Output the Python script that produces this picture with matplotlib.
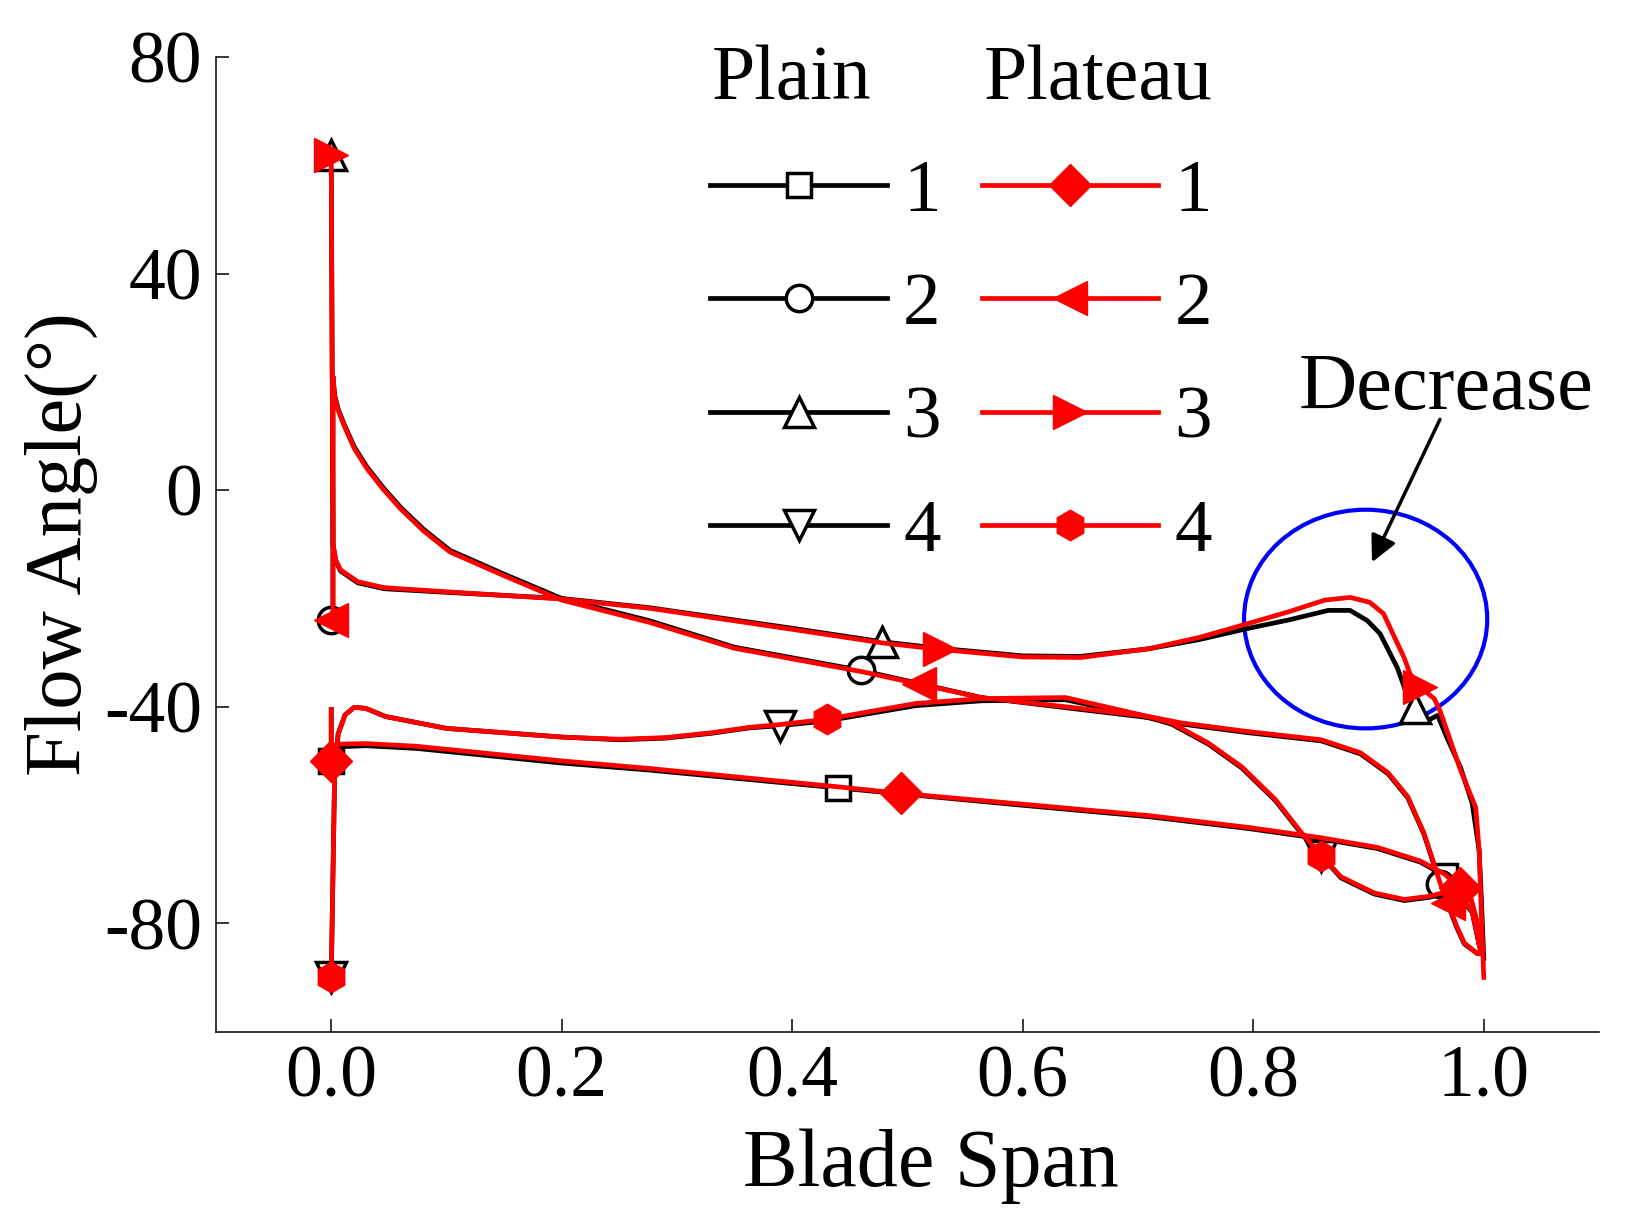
import matplotlib
matplotlib.use("Agg")
import matplotlib.pyplot as plt
from matplotlib.patches import Ellipse
from matplotlib.ticker import FormatStrFormatter

plt.rcParams['font.family'] = ['Liberation Serif', 'DejaVu Serif']
plt.rcParams['axes.unicode_minus'] = False

# Position 1
span_p1 = [0.0, 0.0, 0.006, 0.03, 0.074, 0.2, 0.276, 0.44, 0.6, 0.709, 0.796, 0.859, 0.908, 0.945, 0.966, 0.979, 0.989, 0.994, 0.997]
angle_p1 = [-40.5, -50, -47.4, -47.2, -47.7, -50.4, -51.7, -55, -58.2, -60.3, -62.5, -64.4, -66.2, -68.7, -71.2, -73.7, -75.7, -79.8, -85]
marks_p1 = [1, 7, 14]
span_r1 = [0.0, 0.0, 0.006, 0.03, 0.074, 0.2, 0.276, 0.44, 0.494, 0.6, 0.709, 0.796, 0.859, 0.908, 0.945, 0.966, 0.979, 0.989, 0.994, 0.997]
angle_r1 = [-40.5, -50, -46.9, -46.8, -47.3, -50.0, -51.4, -54.8, -56, -58, -60.1, -62.3, -64.2, -66, -68.5, -70.9, -73.5, -75.5, -79.6, -85]
marks_r1 = [1, 8, 16]

# Position 2
span_p2 = [0.0, 0.0015, 0.0015, 0.003, 0.006, 0.011, 0.02, 0.031, 0.045, 0.06, 0.08, 0.103, 0.15, 0.2, 0.276, 0.35, 0.46, 0.51, 0.564, 0.65, 0.709, 0.738, 0.796, 0.859, 0.893, 0.917, 0.934, 0.948, 0.958, 0.962, 0.969, 0.976, 0.983, 0.994, 0.999]
angle_p2 = [-24, -22, 21, 17.5, 15, 12.3, 8, 4.3, 0.5, -3.1, -7.2, -11.1, -15.5, -20, -24.1, -29, -33.3, -35.7, -38.3, -40.5, -42, -43.2, -44.8, -46.3, -48.7, -52.4, -56.8, -63.5, -70, -72.7, -76.5, -80.5, -83.8, -85.5, -85.5]
marks_p2 = [0, 16, 29]
span_r2 = span_p2
angle_r2 = [-24, -22, 21, 17.3, 14.8, 12.0, 7.7, 4.0, 0.2, -3.4, -7.5, -11.4, -15.8, -20.3, -24.4, -29.2, -33.5, -35.8, -38.3, -40.3, -41.8, -43.0, -44.6, -46.1, -48.5, -52.2, -56.6, -63.3, -69.8, -72.5, -76.2, -80.3, -83.6, -85.6, -85.6]
marks_r2 = [0, 17, 30]

# Position 3
span_p3 = [0.0, 0.0015, 0.004, 0.008, 0.023, 0.046, 0.103, 0.2, 0.276, 0.4, 0.478, 0.528, 0.6, 0.65, 0.709, 0.753, 0.796, 0.83, 0.865, 0.884, 0.899, 0.910, 0.925, 0.932, 0.940, 0.948, 0.960, 0.968, 0.980, 0.990, 0.996, 0.998, 1.0]
angle_p3 = [62, -10, -13, -14.9, -17.1, -18.2, -18.9, -20, -21.7, -25.5, -28, -29.2, -30.6, -30.7, -29.3, -27.6, -25.5, -24.0, -22.2, -22.2, -24.1, -26.5, -32.8, -37, -40.2, -42.9, -41.6, -45.7, -51.3, -57.9, -66.6, -75.9, -86.5]
marks_p3 = [0, 10, 24]
span_r3 = [0.0, 0.0015, 0.004, 0.008, 0.023, 0.046, 0.103, 0.2, 0.276, 0.4, 0.478, 0.528, 0.6, 0.65, 0.709, 0.753, 0.796, 0.83, 0.862, 0.884, 0.901, 0.913, 0.931, 0.936, 0.945, 0.957, 0.962, 0.98, 0.993, 0.996, 0.998, 1.0]
angle_r3 = [62, -10, -13, -14.7, -16.9, -18.0, -18.8, -20.1, -21.8, -25.7, -28.2, -29.4, -30.8, -30.9, -29.3, -27.2, -24.6, -22.5, -20.3, -19.8, -20.7, -22.8, -31, -33.9, -36.4, -38.5, -40.7, -51.8, -58.6, -66.6, -79, -90]
marks_r3 = [0, 11, 24]

# Position 4
span_p4 = [0.0, 0.003, 0.006, 0.012, 0.02, 0.03, 0.047, 0.1, 0.2, 0.25, 0.29, 0.33, 0.363, 0.389, 0.43, 0.507, 0.564, 0.637, 0.709, 0.729, 0.761, 0.790, 0.819, 0.842, 0.859, 0.876, 0.905, 0.931, 0.953, 0.975, 0.99, 0.996]
angle_p4 = [-90, -52, -45, -41.5, -40.1, -40.3, -41.8, -44, -45.6, -46.1, -45.8, -44.9, -43.9, -43.5, -42.6, -39.8, -38.9, -38.7, -42, -43.2, -46.9, -51.3, -57.3, -63.5, -67.5, -71.6, -74.6, -75.8, -75.2, -74, -78, -84]
marks_p4 = [0, 13, 24]
span_r4 = span_p4
angle_r4 = [-90, -52, -45, -41.5, -40.1, -40.3, -41.8, -44, -45.6, -46.0, -45.7, -44.8, -43.8, -43.3, -42.3, -39.4, -38.5, -38.3, -41.8, -43.0, -46.7, -51.1, -57.1, -63.3, -67.5, -71.4, -74.4, -75.6, -75.0, -73.8, -77.8, -84]
marks_r4 = [0, 14, 24]

fig = plt.figure(figsize=(16.30, 12.27), dpi=100)
ax = fig.add_axes([0.1325, 0.1593, 0.981 - 0.1325, 0.9534 - 0.1593])

lw = 3.4
black_kw = dict(color='black', lw=lw, mfc='white', mec='black', mew=2.5)
red_kw = dict(color='red', lw=lw, mfc='red', mec='red', mew=1)

h = []
h += ax.plot(span_p1, angle_p1, marker='s', ms=17, markevery=marks_p1, **black_kw)
h += ax.plot(span_p2, angle_p2, marker='o', ms=19, markevery=marks_p2, **black_kw)
h += ax.plot(span_p3, angle_p3, marker='^', ms=22, markevery=marks_p3, **black_kw)
h += ax.plot(span_p4, angle_p4, marker='v', ms=22, markevery=marks_p4, **black_kw)
h += ax.plot(span_r1, angle_r1, marker='D', ms=21, markevery=marks_r1, **red_kw)
h += ax.plot(span_r2, angle_r2, marker='<', ms=25, markevery=marks_r2, **red_kw)
h += ax.plot(span_r3, angle_r3, marker='>', ms=25, markevery=marks_r3, **red_kw)
h += ax.plot(span_r4, angle_r4, marker='h', ms=22, markevery=marks_r4, **red_kw)

ax.set_xlim(-0.1, 1.1)
ax.set_ylim(-100, 80)
ax.set_xticks([0.0, 0.2, 0.4, 0.6, 0.8, 1.0])
ax.set_yticks([-80, -40, 0, 40, 80])
ax.xaxis.set_major_formatter(FormatStrFormatter('%.1f'))
ax.tick_params(direction='in', length=9.5, width=1.1, labelsize=53, pad=10)
ax.spines['top'].set_visible(False)
ax.spines['right'].set_visible(False)
for s in ['left', 'bottom']:
    ax.spines[s].set_linewidth(1.1)

ax.set_xlabel('Blade Span', fontsize=59)
ax.set_ylabel('Flow Angle(°)', fontsize=58)
ax.xaxis.set_label_coords(0.517, -0.099)
ax.yaxis.set_label_coords(-0.085, 0.5)

ax.legend(h, ['1', '2', '3', '4'] * 2, ncol=2, loc='upper left',
          bbox_to_anchor=(0.329, 61.3), bbox_transform=ax.transData,
          fontsize=54, handlelength=2.35, handletextpad=0.22, columnspacing=0.55,
          labelspacing=0.6, borderpad=0, borderaxespad=0, frameon=False)
ax.text(0.33, 72.3, 'Plain', fontsize=56, va='baseline', ha='left')
ax.text(0.566, 72.3, 'Plateau', fontsize=56, va='baseline', ha='left')

ax.add_patch(Ellipse((0.8975, -23.8), 0.211, 40.4, fill=False, edgecolor='blue', lw=3))
ax.text(0.967, 15.0, 'Decrease', fontsize=58, ha='center', va='baseline')
ax.annotate('', xy=(0.903, -13.3), xytext=(0.962, 13.1),
            arrowprops=dict(arrowstyle='-|>', color='black', lw=2.5, mutation_scale=40,
                            shrinkA=0, shrinkB=0))

fig.savefig('out.png', dpi=100)
